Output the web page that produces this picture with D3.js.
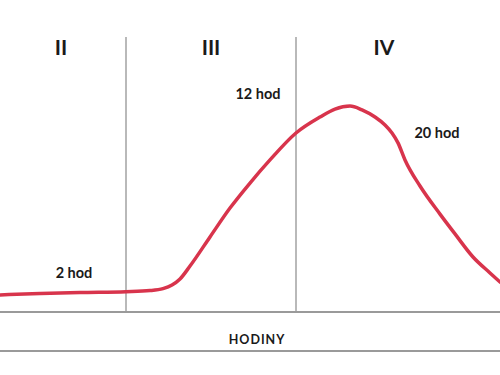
<!DOCTYPE html>
<html>
<head>
<meta charset="utf-8">
<script src="https://cdn.jsdelivr.net/npm/d3@7"></script>
<style>
  body { margin: 0; background: #fff; }
  text { font-family: Lato, "Open Sans", sans-serif; font-weight: bold; fill: #1a1a1a; }
</style>
</head>
<body>
<div id="chart"></div>
<script>
const width = 500, height = 375;

// curve: x = share of time axis (0-100), y = level (0-100)
const curveX = [0, 8, 16, 25.2, 30, 32.6, 34.4, 36, 38, 42, 46, 50, 54, 59.2, 64, 67, 70, 72.4, 75, 77, 78.4, 79.6, 81, 84, 88, 91, 94.6, 98, 100];
const curveY = [6.2, 6.7, 7.1, 7.4, 7.8, 8.5, 9.8, 12.0, 16.7, 27.3, 37.8, 46.9, 55.3, 65.1, 70.9, 73.8, 74.9, 73.5, 70.9, 68.0, 65.1, 61.5, 55.3, 45.8, 35.6, 28.4, 20.0, 14.2, 10.9];

// phase separators and phase labels
const dividers = [25.2, 59.2];
const phases = ['II', 'III', 'IV'];
const phaseX = [12.2, 42.2, 76.8];

// hour annotations
const hourLabels = ['2 hod', '12 hod', '20 hod'];
const hourX = [14.8, 51.6, 87.4];
const hourY = [12.3, 77.5, 63.3];

const axisTitle = 'HODINY';

const x = d3.scaleLinear().domain([0, 100]).range([0, width]);
const y = d3.scaleLinear().domain([0, 100]).range([312, 37]);

const svg = d3.select('#chart').append('svg')
    .attr('width', width)
    .attr('height', height);

// vertical separators
svg.selectAll('.div').data(dividers).enter().append('line')
    .attr('class', 'div')
    .attr('x1', d => x(d)).attr('x2', d => x(d))
    .attr('y1', y(100)).attr('y2', y(0))
    .attr('stroke', '#8a8a8a').attr('stroke-width', 1.2);

// axis band lines
svg.append('line')
    .attr('x1', 0).attr('x2', width)
    .attr('y1', y(0)).attr('y2', y(0))
    .attr('stroke', '#9a9a9a').attr('stroke-width', 1.8);
svg.append('line')
    .attr('x1', 0).attr('x2', width)
    .attr('y1', 351).attr('y2', 351)
    .attr('stroke', '#9a9a9a').attr('stroke-width', 2);

svg.append('text')
    .attr('x', x(51.4)).attr('y', 344)
    .attr('text-anchor', 'middle')
    .style('font-size', '12.5px')
    .style('letter-spacing', '1px')
    .text(axisTitle);

// phase labels
svg.selectAll('.phase').data(phases).enter().append('text')
    .attr('class', 'phase')
    .attr('x', (d, i) => x(phaseX[i]))
    .attr('y', 55)
    .attr('text-anchor', 'middle')
    .style('font-size', '21px')
    .text(d => d);

// curve
const line = d3.line()
    .x((d, i) => x(curveX[i]))
    .y(d => y(d))
    .curve(d3.curveMonotoneX);

svg.append('path')
    .datum(curveY)
    .attr('d', line)
    .attr('fill', 'none')
    .attr('stroke', '#d8344c')
    .attr('stroke-width', 3.5)
    .attr('stroke-linecap', 'round');

// hour labels
svg.selectAll('.hour').data(hourLabels).enter().append('text')
    .attr('class', 'hour')
    .attr('x', (d, i) => x(hourX[i]))
    .attr('y', (d, i) => y(hourY[i]))
    .attr('text-anchor', 'middle')
    .style('font-size', '14.5px')
    .text(d => d);
</script>
</body>
</html>
